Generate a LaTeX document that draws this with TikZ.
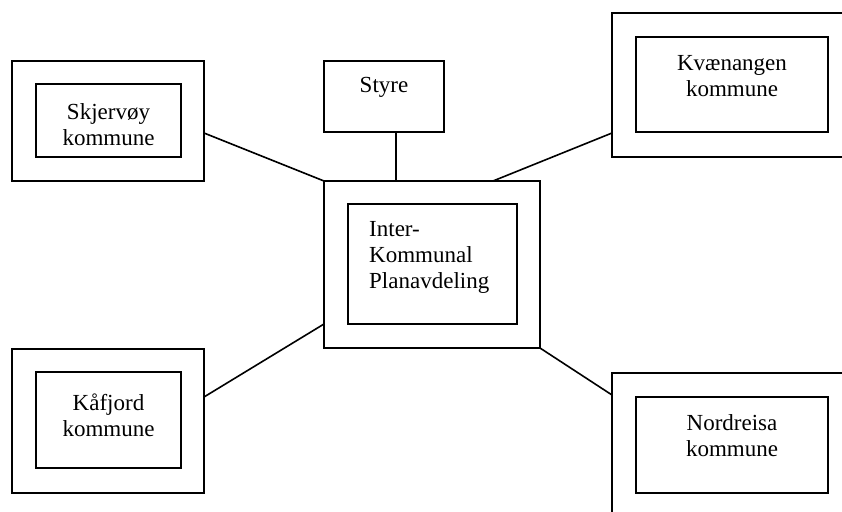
\documentclass[tikz,border=0pt]{standalone}
\usepackage{fontspec}
\setmainfont{Liberation Serif}
\begin{document}
\begin{tikzpicture}[x=1pt,y=-1pt,
  frame/.style={draw, line width=1.6pt, inner sep=0pt, outer sep=0pt},
  conn/.style={line width=1.6pt},
  lbl/.style={inner sep=0pt, font=\fontsize{23}{26}\selectfont, align=center}]
\useasboundingbox (0,0) rectangle (842,511);
\begin{scope}
\clip (0,0) rectangle (842,511);
% outer frames
\node[frame, minimum width=192pt, minimum height=120pt] (skjO) at (108,121) {};
\node[frame, minimum width=258pt, minimum height=144pt] (kvO) at (741,85) {};
\node[frame, minimum width=216pt, minimum height=167pt] (cenO) at (432,264.5) {};
\node[frame, minimum width=192pt, minimum height=144pt] (kaO) at (108,421) {};
\node[frame, minimum width=258pt, minimum height=167pt] (noO) at (741,456.5) {};
% inner frames
\node[frame, minimum width=145pt, minimum height=73pt] (skjI) at (108.5,120.5) {};
\node[frame, minimum width=120pt, minimum height=71pt] (sty) at (384,96.5) {};
\node[frame, minimum width=192pt, minimum height=95pt] (kvI) at (732,84.5) {};
\node[frame, minimum width=169pt, minimum height=120pt] (cenI) at (432.5,264) {};
\node[frame, minimum width=145pt, minimum height=96pt] (kaI) at (108.5,420) {};
\node[frame, minimum width=192pt, minimum height=96pt] (noI) at (732,445) {};
% texts
\node[lbl] (skjT) at (108.5,125) {Skjervøy\\kommune};
\node[lbl] (styT) at (384,87) {Styre};
\node[lbl] (kvT) at (732,76.5) {Kvænangen\\kommune};
\node[lbl, align=left, anchor=west] (cenT) at (369,257.5) {Inter-\\Kommunal\\Planavdeling};
\node[lbl] (kaT) at (108.5,415) {Kåfjord\\kommune};
\node[lbl] (noT) at (732,436) {Nordreisa\\kommune};
% connectors
\draw[conn] ([yshift=-12pt]skjO.east) -- (cenO.north west);
\draw[conn] ([yshift=24pt]kvO.south west) -- ([xshift=-47pt]cenO.north east);
\draw[conn] ([yshift=24pt]kaO.east) -- ([yshift=24pt]cenO.south west);
\draw[conn] (cenO.south east) -- ([yshift=-22pt]noO.north west);
\draw[conn] ([xshift=12pt]sty.south) -- ([xshift=12pt]sty.south |- cenO.north);
\end{scope}
\end{tikzpicture}
\end{document}
